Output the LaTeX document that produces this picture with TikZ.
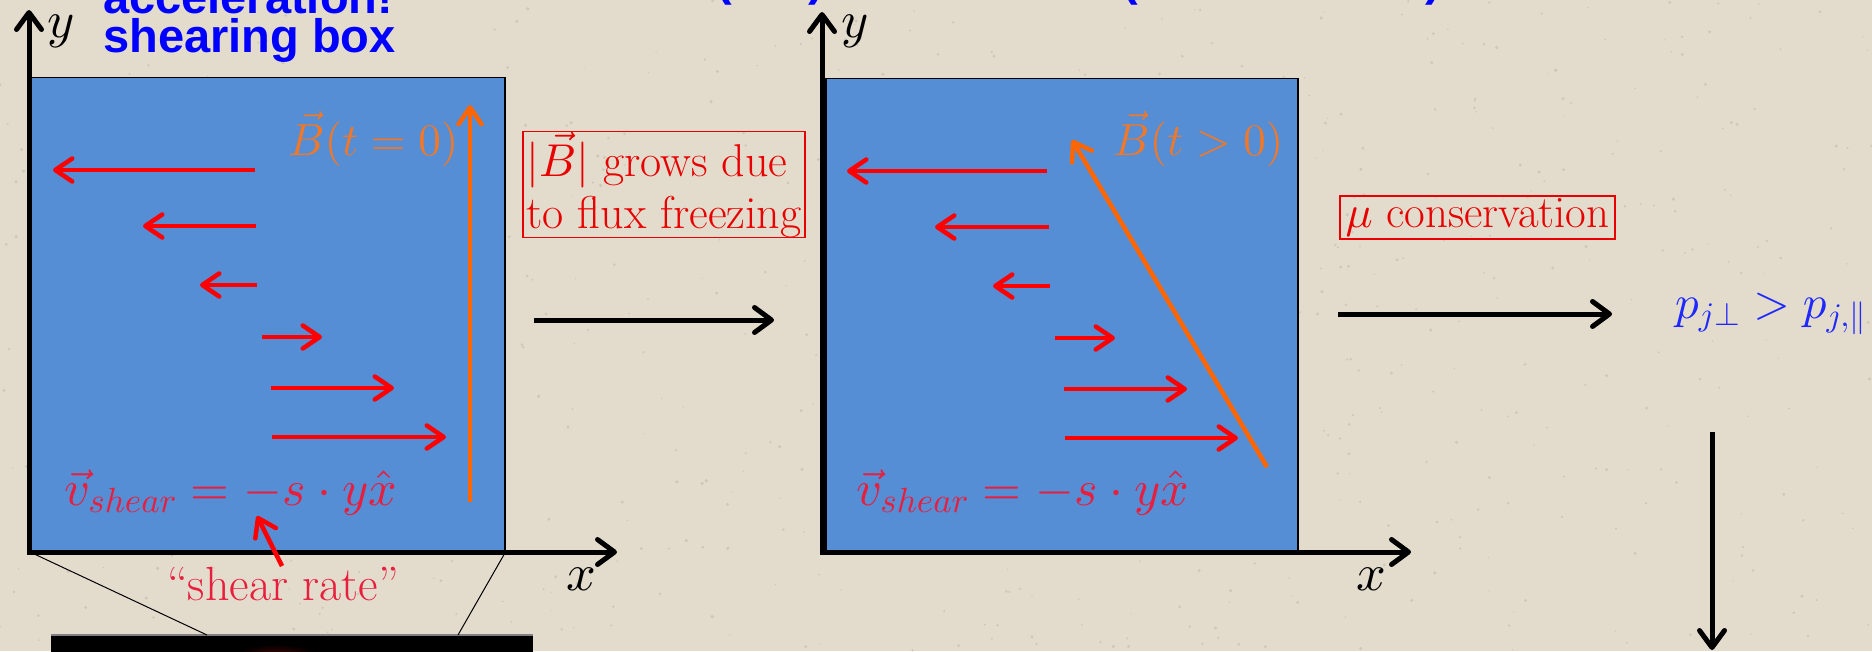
\documentclass[tikz,border=0pt]{standalone}
\usepackage{fontspec}
\newfontfamily\titlefont{Liberation Sans}
\usetikzlibrary{arrows.meta}
\DeclareFontShape{OML}{cmm}{m}{it}{<-8.5>cmmi7<8.5->cmmi10}{}
\DeclareFontShape{OMS}{cmsy}{m}{n}{<-8.5>cmsy7<8.5->cmsy10}{}
\DeclareFontShape{OMX}{cmex}{m}{n}{<->cmex10}{}
\DeclareFontShape{OT1}{cmr}{m}{n}{<-8.5>cmr7<8.5->cmr10}{}
\definecolor{paper}{RGB}{227,220,205}
\definecolor{speck}{RGB}{170,160,145}
\definecolor{boxblue}{RGB}{85,142,213}
\definecolor{vred}{RGB}{255,0,0}
\definecolor{borange}{RGB}{255,102,0}
\definecolor{lorange}{RGB}{240,120,40}
\definecolor{crimson}{RGB}{232,30,60}
\definecolor{tred}{RGB}{232,0,0}
\definecolor{tblue}{RGB}{0,0,255}
\definecolor{pblue}{RGB}{30,40,255}
\newcommand\fsz[2]{\fontsize{#1}{#2}\selectfont}
\begin{document}
\begin{tikzpicture}[x=1pt,y=-1pt,
  axisarrow/.style={draw=black, line width=5pt, -{Straight Barb[round,length=17pt,width=25pt]}},
  connarrow/.style={draw=black, line width=5pt, -{Straight Barb[round,length=17pt,width=25pt]}},
  varrow/.style={draw=vred, line width=4.5pt, -{Straight Barb[round,length=17pt,width=23pt]}},
  barrow/.style={draw=borange, line width=4.5pt, -{Straight Barb[round,length=17pt,width=23pt]}},
  bluebox/.style={fill=boxblue, draw=black, line width=1.5pt, inner sep=0, anchor=south west},
  redbox/.style={draw=tred, line width=1.5pt, text=tred, inner sep=0, align=left},
  lbl/.style={inner sep=0, anchor=base west},
  zoomline/.style={draw=black, line width=1pt},
]
\useasboundingbox (0,0) rectangle (1872,651);
\clip (0,0) rectangle (1872,651);
\fill[paper] (0,0) rectangle (1872,651);
\pgfmathsetseed{7}
\foreach \i in {1,...,700}{
  \pgfmathsetmacro\rx{rnd*1872}\pgfmathsetmacro\ry{rnd*651}\pgfmathsetmacro\rr{0.6+rnd*1.2}
  \fill[speck, opacity=0.35] (\rx,\ry) circle (\rr pt);
}

% title fragments
\node[lbl, text=tblue, font=\titlefont\bfseries\fsz{47}{47}] (t1) at (103,13) {acceleration!};
\node[lbl, text=tblue, font=\titlefont\bfseries\fsz{47}{47}] (t2) at (103,52) {shearing box};
\foreach \px/\c in {716/(, 808/), 1122/(, 1425/)}{
  \node[lbl, text=tblue, font=\titlefont\bfseries\fsz{47}{47}] at (\px,-5) {\c};
}

% ---------- panel 1 ----------
\node[bluebox, minimum width=474pt, minimum height=474pt] (box1) at (30,552) {};
\coordinate (o1) at (29,552);
\coordinate (y1) at (29,10);
\coordinate (x1) at (617,552);
\draw[axisarrow] ([yshift=-2.5pt]o1) -- (y1);
\draw[axisarrow] ([xshift=-2.5pt]o1) -- (x1);
\node[lbl, font=\fsz{52}{60}] (ylab1) at (47,37) {$y$};
\node[lbl, font=\fsz{52}{60}] (xlab1) at (566,590) {$x$};

\foreach \a/\b/\yy in {255/53/170, 256/143/226, 257/200/285, 262/322/337, 271/394/388, 272/446/437}{
  \draw[varrow] (\a,\yy) -- (\b,\yy);
}
\coordinate (bs1) at (470,502);
\coordinate (be1) at (470,105);
\draw[barrow] (bs1) -- (be1);
\node[lbl, text=lorange, font=\fsz{45}{54}] (blab1) at (288,155) {$\vec B(t=0)$};
\node[lbl, text=crimson, font=\fsz{50}{60}] (vlab1) at (64,505) {$\vec v_{shear}=-s\cdot y\hat x$};
\node[lbl, text=crimson, font=\fsz{48}{56}] (sr) at (167,600) {``shear rate''};
\coordinate (srtail) at (282,566);
\coordinate (srtip) at (257,516);
\draw[varrow] (srtail) -- (srtip);

% ---------- middle ----------
\node[redbox, minimum width=282pt, minimum height=105pt, font=\fsz{46}{52}] (flux) at (664,184.5) {$|\vec B|$ grows due\\to flux freezing};
\coordinate (m1) at (534,320);
\coordinate (m2) at (774,320);
\draw[connarrow] (m1) -- (m2);

% ---------- panel 2 ----------
\node[bluebox, minimum width=472pt, minimum height=473pt] (box2) at (825,552) {};
\coordinate (o2) at (822,552);
\coordinate (y2) at (822,12);
\coordinate (x2) at (1411,552);
\draw[axisarrow] ([yshift=-2.5pt]o2) -- (y2);
\draw[axisarrow] ([xshift=-2.5pt]o2) -- (x2);
\node[lbl, font=\fsz{52}{60}] (ylab2) at (841,37) {$y$};
\node[lbl, font=\fsz{52}{60}] (xlab2) at (1356,590) {$x$};

\foreach \a/\b/\yy in {1047/847/171, 1049/935/227, 1050/993/286, 1055/1115/338, 1064/1187/389, 1065/1238/438}{
  \draw[varrow] (\a,\yy) -- (\b,\yy);
}
\coordinate (bs2) at (1267,467);
\coordinate (be2) at (1072,140);
\draw[barrow] (bs2) -- (be2);
\node[lbl, text=lorange, font=\fsz{45}{54}] (blab2) at (1113,155) {$\vec B(t>0)$};
\node[lbl, text=crimson, font=\fsz{50}{60}] (vlab2) at (856,505) {$\vec v_{shear}=-s\cdot y\hat x$};

% ---------- right ----------
\node[redbox, minimum width=275pt, minimum height=43pt, font=\fsz{45}{50}] (mu) at (1477.5,217.5) {$\mu$ conservation};
\coordinate (r1) at (1338,314);
\coordinate (r2) at (1612,314);
\draw[connarrow] (r1) -- (r2);
\node[lbl, text=pblue, font=\fsz{47}{55}] (plab) at (1675,318) {$p_{j\perp}>p_{j,\parallel}$};
\coordinate (d1) at (1712,432);
\coordinate (d2) at (1712,650);
\draw[connarrow] (d1) -- (d2);

% ---------- bottom image ----------
\node[fill=black, inner sep=0, anchor=north west, minimum width=482pt, minimum height=40pt] (img) at (51,635) {};
\shade[inner color={rgb,255:red,70;green,5;blue,5}, outer color=black] (277,656) ellipse (42pt and 12pt);
\draw[draw=gray, line width=1.5pt] (img.north west) -- (img.north east);
\coordinate (z1) at (207,635);
\coordinate (z2) at (458,635);
\draw[zoomline] (box1.south west) -- (z1);
\draw[zoomline] (box1.south east) -- (z2);
\end{tikzpicture}
\end{document}
